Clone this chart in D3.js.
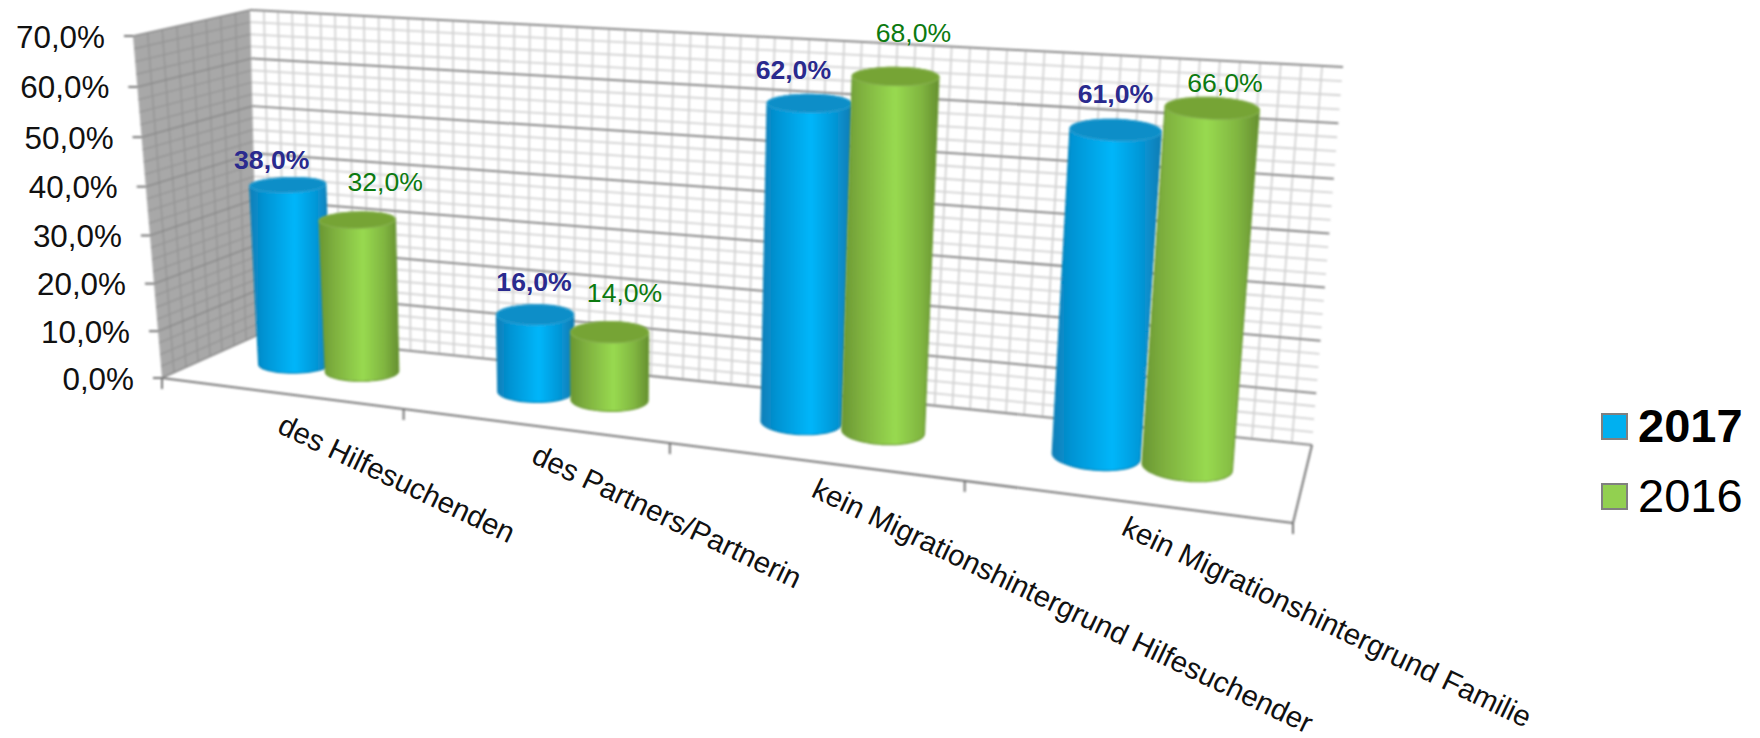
<!DOCTYPE html>
<html><head><meta charset="utf-8">
<script src="https://cdn.jsdelivr.net/npm/d3@7"></script>
<style>html,body{margin:0;padding:0;background:#fff;overflow:hidden}text{font-family:"Liberation Sans",Arial,sans-serif}</style>
</head><body><svg id="c" width="1760" height="738"></svg>
<script>
// ---- data ----
const categories = ["des Hilfesuchenden","des Partners/Partnerin","kein Migrationshintergrund Hilfesuchender","kein Migrationshintergrund Familie"];
const seriesNames = ["2017","2016"];
const values2017 = [38,16,62,61];
const values2016 = [32,14,68,66];
const yTickValues = [0,10,20,30,40,50,60,70];
const valueFormat = v => v.toFixed(1).replace(".",",")+"%";

// ---- layout (box corners of the 3-D frame as seen on screen) ----
const FLB=[162,378],BLB=[258,335],BRB=[1312,445],FRB=[1293,523];
const FLT=[133,36],BLT=[250,10],BRT=[1343,67],FRT=[1326,125];
const K=1.227,KY=1.05;                // foreshortening along the category and value axes
const persp=(t,k)=>t/(t+k*(1-t));
const yS=d3.scaleLinear().domain([0,70]).range([0,1]);
const xBand=d3.scaleBand().domain(categories).range([0,1]).paddingInner(0.424).paddingOuter(0.212);
const xSub=d3.scaleBand().domain(seriesNames).range([0,xBand.bandwidth()]);
const lerp=(a,b,f)=>[a[0]+(b[0]-a[0])*f,a[1]+(b[1]-a[1])*f];
function P(t,v,z){
  const u=persp(t,K),f=persp(yS(v),KY);
  const fb=lerp(FLB,FRB,u),bb=lerp(BLB,BRB,u),ft=lerp(FLT,FRT,u),bt=lerp(BLT,BRT,u);
  return lerp(lerp(fb,bb,z),lerp(ft,bt,z),f);
}
const line=d3.line();
const svg=d3.select("#c");
const defs=svg.append("defs");
defs.append("filter").attr("id","soft").attr("x","-5%").attr("y","-5%").attr("width","110%").attr("height","110%")
  .append("feGaussianBlur").attr("stdDeviation",0.8);
defs.append("filter").attr("id","soft2").attr("x","-5%").attr("y","-5%").attr("width","110%").attr("height","110%")
  .append("feGaussianBlur").attr("stdDeviation",0.9);
const seriesStyle={
 "2017":{stops:[[0,"#0a7fb9"],[.18,"#0494d4"],[.55,"#00b6fa"],[.82,"#0696d6"],[1,"#0a7cb4"]],top:"#0a8ec8",rim:"#2c9fd2",edge:"#0a7fb5",label:"#2a2a8e",weight:"bold",swatch:"#00b0f0"},
 "2016":{stops:[[0,"#6a9733"],[.2,"#7fb13f"],[.55,"#98da50"],[.82,"#80b540"],[1,"#658f30"]],top:"#76a436",rim:"#86b04e",edge:"#6c9a38",label:"#0c7a10",weight:"normal",swatch:"#92d050"}
};
seriesNames.forEach(n=>{
  const g=defs.append("linearGradient").attr("id","g"+n);
  seriesStyle[n].stops.forEach(s=>g.append("stop").attr("offset",s[0]).attr("stop-color",s[1]));
});

// ---- walls ----
const grid=svg.append("g").attr("filter","url(#soft2)");
const poly=(pts,fill)=>grid.append("path").attr("d",line(pts)+"Z").attr("fill",fill);
poly([P(0,0,0),P(0,70,0),P(0,70,1),P(0,0,1)],"#a8a8a8");
const segs=(a,b,color,w)=>grid.append("path").attr("d",line([a,b])).attr("stroke",color).attr("stroke-width",w).attr("fill","none");
// minor grid
d3.range(0,70.01,2.5).forEach(v=>{ if(v%10){
  segs(P(0,v,1),P(1,v,1),"#d2d2d2",1.8);
  segs(P(0,v,0),P(0,v,1),"#959595",1.4);
}});
d3.range(1,64).forEach(i=>segs(P(i/64,0,1),P(i/64,70,1),"#d2d2d2",1.8));
d3.range(1,8).forEach(i=>segs(P(0,0,i/8),P(0,70,i/8),"#959595",1.4));
// major grid
yTickValues.forEach(v=>{
  segs(P(0,v,1),P(1,v,1),"#868686",2);
  segs(P(0,v,0),P(0,v,1),"#8a8a8a",1.6);
});
// floor outline and axis
segs(P(0,0,0),P(1,0,0),"#757575",2);
segs(P(1,0,0),P(1,0,1),"#757575",2);
yTickValues.forEach(v=>{const p=P(0,v,0);segs([p[0]-9,p[1]],p,"#757575",2);});
categories.concat([""]).forEach((c,i)=>{const p=P(i/4,0,0);segs(p,[p[0],p[1]+11],"#757575",2);});

// ---- y labels ----
svg.append("g").selectAll("text").data(yTickValues).join("text")
  .attr("x",v=>P(0,v,0)[0]-28).attr("y",v=>P(0,v,0)[1]+1)
  .attr("text-anchor","end").attr("dominant-baseline","central")
  .attr("font-size",31.4).attr("fill","#111").text(valueFormat);

// ---- cylinders ----
const BAR_Z=0.55,RZ=0.19,RT=0.035;
const rows=[];
categories.forEach((c,i)=>{
  seriesNames.forEach((n,j)=>rows.push({cat:c,i,series:n,j,value:[values2017,values2016][j][i]}));
});
const ring=(t,v)=>d3.range(0,360,6).map(a=>{
  const r=a*Math.PI/180;
  return P(t+RT*Math.cos(r),v,BAR_Z+RZ*Math.sin(r));
});
const bars=svg.append("g");
rows.forEach(d=>{
  const t=xBand(d.cat)+xSub(d.series)+xSub.bandwidth()/2;
  const st=seriesStyle[d.series];
  const topR=ring(t,d.value),botR=ring(t,0);
  const g=bars.append("g").attr("filter","url(#soft)");
  g.append("path").attr("d",line(d3.polygonHull(topR.concat(botR)))+"Z").attr("fill",`url(#g${d.series})`)
    .attr("stroke",st.edge).attr("stroke-width",1.2);
  g.append("path").attr("d",line(topR)+"Z").attr("fill",st.top).attr("stroke",st.rim).attr("stroke-width",1.2);
  d.topC=P(t,d.value,BAR_Z);
});

// ---- value labels ----
const labelShift={ "2017":[[-16,-24.5],[-1,-33],[-16,-33],[0,-36]], "2016":[[28,-38],[15,-39],[18,-43],[13,-25]] };
svg.append("g").selectAll("text").data(rows).join("text")
  .attr("x",d=>d.topC[0]+labelShift[d.series][d.i][0])
  .attr("y",d=>d.topC[1]+labelShift[d.series][d.i][1])
  .attr("text-anchor","middle").attr("dominant-baseline","central")
  .attr("font-size",26.6).attr("font-weight",d=>seriesStyle[d.series].weight)
  .attr("fill",d=>seriesStyle[d.series].label).text(d=>valueFormat(d.value));

// ---- category labels ----
const catShift=[[276,432],[530,462],[810,496],[1120,534]];
svg.append("g").selectAll("text").data(categories).join("text")
  .attr("transform",(c,i)=>`translate(${catShift[i]}) rotate(25.6)`)
  .attr("font-size",29.4).attr("fill","#111").text(c=>c);

// ---- legend ----
const lg=svg.append("g");
seriesNames.forEach((n,i)=>{
  const y=414+i*70;
  lg.append("rect").attr("x",1602).attr("y",y).attr("width",25).attr("height",25)
    .attr("fill",seriesStyle[n].swatch).attr("stroke","#808080").attr("stroke-width",2);
  lg.append("text").attr("x",1638).attr("y",y+28).attr("font-size",47)
    .attr("font-weight",i==0?"bold":"normal").attr("fill","#000").text(n);
});
</script></body></html>
